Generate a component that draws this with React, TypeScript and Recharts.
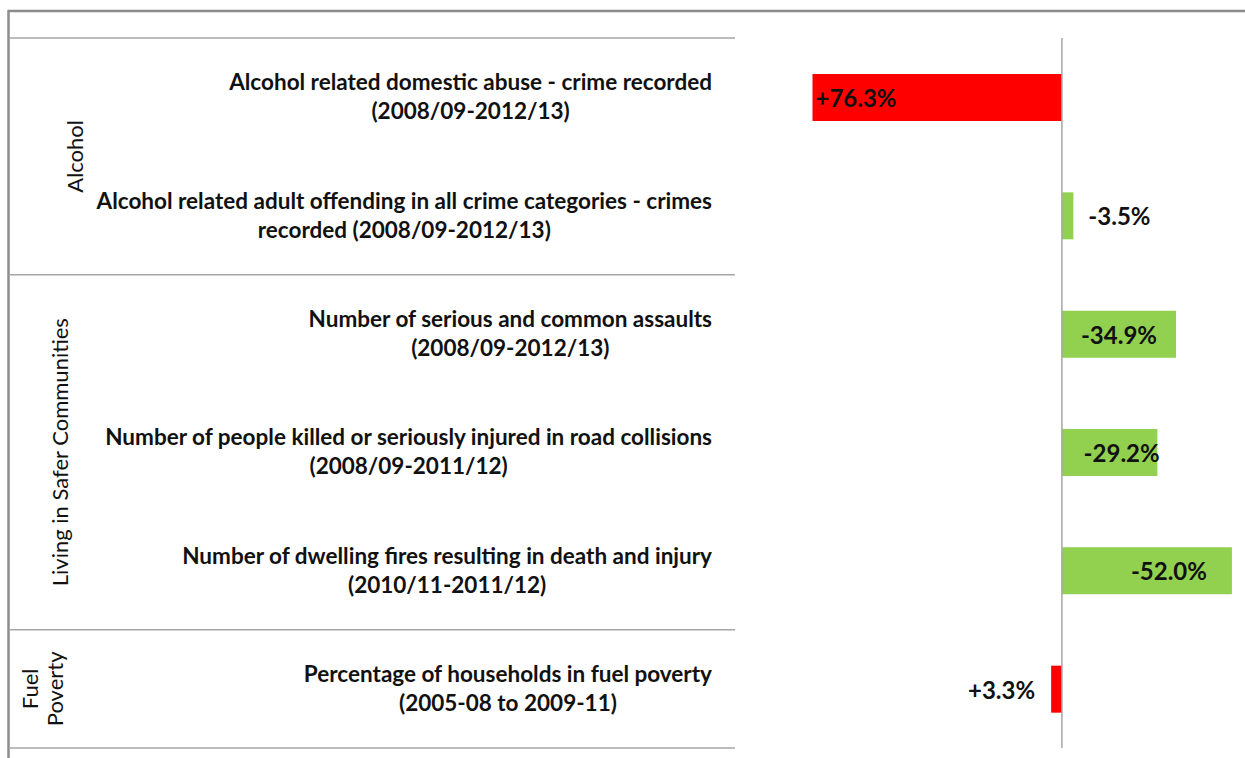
import React from 'react';
import { BarChart, Bar, XAxis, YAxis, ReferenceLine, Cell, LabelList } from 'recharts';

const CATEGORY_LINE1 = [
  'Alcohol related domestic abuse - crime recorded',
  'Alcohol related adult offending in all crime categories - crimes',
  'Number of serious and common assaults',
  'Number of people killed or seriously injured in road collisions',
  'Number of dwelling fires resulting in death and injury',
  'Percentage of households in fuel poverty',
];
const CATEGORY_LINE2 = [
  '(2008/09-2012/13)',
  'recorded (2008/09-2012/13)',
  '(2008/09-2012/13)',
  '(2008/09-2011/12)',
  '(2010/11-2011/12)',
  '(2005-08 to 2009-11)',
];
const GROUPS = [
  'Alcohol',
  'Alcohol',
  'Living in Safer Communities',
  'Living in Safer Communities',
  'Living in Safer Communities',
  'Fuel Poverty',
];
const CHANGE = [76.3, -3.5, -34.9, -29.2, -52.0, 3.3];
const CHANGE_LABELS = ['+76.3%', '-3.5%', '-34.9%', '-29.2%', '-52.0%', '+3.3%'];

const data = CATEGORY_LINE1.map((name, i) => ({
  name,
  line2: CATEGORY_LINE2[i],
  group: GROUPS[i],
  change: CHANGE[i],
  plotted: -CHANGE[i],
  label: CHANGE_LABELS[i],
}));

// layout / style
const W = 1245;
const H = 758;
const TOP = 38;
const BOTTOM = 10;
const AXIS_W = 735;
const ROW_H = (H - TOP - BOTTOM) / data.length;
const FONT = 'Lato, "Open Sans", sans-serif';
const RED = '#FF0000';
const GREEN = '#92D050';
const SEP = '#a6a6a6';
const FRAME = '#8c8c8c';
const LABEL_MODE = ['insideStart', 'outside', 'center', 'center', 'center', 'outside'];
const LABEL_DX = [0, 0, 0, 12, 22, 0];
const GROUP_STYLE: Record<string, { lines: string[]; xs: number[] }> = {
  Alcohol: { lines: ['Alcohol'], xs: [75] },
  'Living in Safer Communities': { lines: ['Living in Safer Communities'], xs: [60] },
  'Fuel Poverty': { lines: ['Fuel', 'Poverty'], xs: [30, 55] },
};

const CatTick = (props: any) => {
  const { y, payload } = props;
  const i = payload.index ?? props.index ?? 0;
  const d = data[i];
  const isGroupStart = i === 0 || data[i - 1].group !== d.group;
  let n = 0;
  if (isGroupStart) {
    for (let k = i; k < data.length && data[k].group === d.group; k++) n++;
  }
  const top = y - ROW_H / 2;
  const gs = GROUP_STYLE[d.group];
  const gcy = top + (n * ROW_H) / 2;
  return (
    <g>
      <foreignObject x={0} y={y - 30} width={712} height={62}>
        <div
          style={{
            textAlign: 'right',
            fontFamily: FONT,
            fontWeight: 700,
            fontSize: 22.5,
            lineHeight: '29px',
            color: '#111',
            whiteSpace: 'nowrap',
          }}
        >
          <span style={{ display: 'inline-block', textAlign: 'center' }}>
            {d.name}
            <br />
            {d.line2}
          </span>
        </div>
      </foreignObject>
      {isGroupStart && <line x1={10} x2={AXIS_W} y1={top} y2={top} stroke={SEP} strokeWidth={1.5} />}
      {i === data.length - 1 && (
        <line x1={10} x2={AXIS_W} y1={y + ROW_H / 2} y2={y + ROW_H / 2} stroke={SEP} strokeWidth={1.5} />
      )}
      {isGroupStart &&
        gs.lines.map((ln, k) => (
          <text
            key={k}
            x={gs.xs[k]}
            y={gcy}
            transform={`rotate(-90, ${gs.xs[k]}, ${gcy})`}
            textAnchor="middle"
            dominantBaseline="central"
            fontFamily={FONT}
            fontSize={22}
            fill="#111"
          >
            {ln}
          </text>
        ))}
    </g>
  );
};

const renderLabel = (props: any) => {
  const { x, y, width, height, index } = props;
  const left = Math.min(x, x + width);
  const right = Math.max(x, x + width);
  const cy = y + height / 2;
  const mode = LABEL_MODE[index];
  const txt = data[index].label;
  const neg = data[index].plotted < 0;
  let tx = (left + right) / 2 + LABEL_DX[index];
  let anchor: 'start' | 'middle' | 'end' = 'middle';
  if (mode === 'insideStart') {
    tx = left + 3;
    anchor = 'start';
  } else if (mode === 'outside') {
    if (neg) {
      tx = left - 16;
      anchor = 'end';
    } else {
      tx = right + 15;
      anchor = 'start';
    }
  }
  return (
    <text
      x={tx}
      y={cy}
      textAnchor={anchor}
      dominantBaseline="central"
      fontFamily={FONT}
      fontWeight={700}
      fontSize={24}
      fill="#111"
    >
      {txt}
    </text>
  );
};

export default function App() {
  return (
    <div style={{ position: 'absolute', left: 0, top: 0, width: W, height: H, background: '#fff' }}>
      <BarChart
        width={W}
        height={H}
        data={data}
        layout="vertical"
        margin={{ top: TOP, right: 0, bottom: BOTTOM, left: 0 }}
      >
        <XAxis type="number" domain={[-100, 56]} hide />
        <YAxis
          type="category"
          dataKey="name"
          width={AXIS_W}
          axisLine={false}
          tickLine={false}
          interval={0}
          tick={<CatTick />}
        />
        <ReferenceLine x={0} stroke={SEP} strokeWidth={1.5} />
        <Bar dataKey="plotted" barSize={47} isAnimationActive={false}>
          {data.map((d, i) => (
            <Cell key={i} fill={d.change > 0 ? RED : GREEN} />
          ))}
          <LabelList dataKey="label" content={renderLabel} />
        </Bar>
      </BarChart>
      <svg
        width={W}
        height={H}
        style={{ position: 'absolute', left: 0, top: 0, pointerEvents: 'none' }}
      >
        <line x1={8} x2={W} y1={11} y2={11} stroke={FRAME} strokeWidth={2.5} />
        <line x1={8.5} x2={8.5} y1={10} y2={H} stroke={FRAME} strokeWidth={2.5} />
      </svg>
    </div>
  );
}
